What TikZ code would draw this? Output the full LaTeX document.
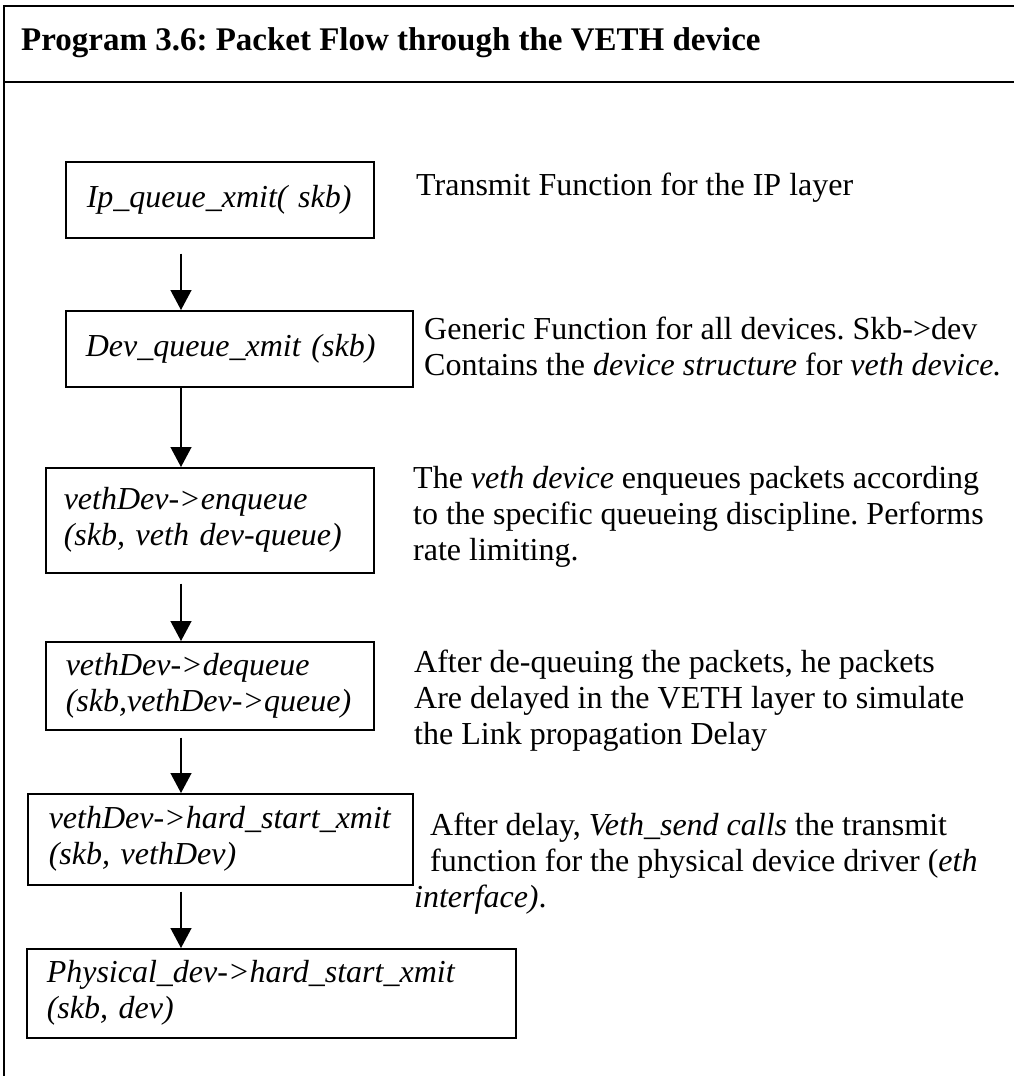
\documentclass[tikz,border=0pt]{standalone}
\usepackage{fontspec}
\setmainfont{Liberation Serif}
\usetikzlibrary{arrows.meta}
\frenchspacing

\begin{document}
\begin{tikzpicture}[x=1pt,y=-1pt,
  txt/.style={font=\fontsize{32pt}{36pt}\selectfont},
  flowbox/.style={txt, draw, line width=1.5pt, anchor=north west, align=left,
                  inner ysep=0pt, font=\fontsize{32pt}{36pt}\selectfont\itshape},
  % multi-line notes are placed by the baseline of their last line
  note/.style={txt, anchor=base west, align=left, inner sep=0pt},
  flow/.style={line width=1.3pt, -{Triangle[length=20pt,width=21pt]}},
  frame/.style={line width=2pt}]
  \useasboundingbox (0,0) rectangle (1014,1076);

  % table frame: open on the right and at the bottom
  \coordinate (tl) at (4,6);
  \coordinate (tr) at (1016,6);
  \coordinate (hl) at (4,82);
  \coordinate (hr) at (1016,82);
  \coordinate (bl) at (4,1078);
  \draw[frame] (tr) -- (tl) -- (bl);
  \draw[frame] (hl) -- (hr);

  \node[txt, font=\fontsize{33pt}{36pt}\selectfont\bfseries, anchor=base west, inner sep=0pt]
    (title) at (21,50) {Program 3.6: Packet Flow through the VETH device};

  % call chain
  \node[flowbox, minimum width=308pt, minimum height=76pt, inner xsep=21pt, text width=266pt]
    (b1) at (65,161) {Ip\_queue\_xmit( skb)};
  \node[flowbox, minimum width=347pt, minimum height=76pt, inner xsep=20pt, text width=307pt]
    (b2) at (65,310) {Dev\_queue\_xmit (skb)};
  \node[flowbox, minimum width=328pt, minimum height=105pt, inner xsep=18pt, text width=292pt]
    (b3) at (45,467) {vethDev->enqueue\\(skb, veth dev-queue)};
  \node[flowbox, minimum width=328pt, minimum height=88pt, inner xsep=20pt, text width=288pt]
    (b4) at (45,641) {vethDev->dequeue\\(skb,vethDev->queue)};
  \node[flowbox, minimum width=385pt, minimum height=91pt, inner xsep=21pt, text width=343pt]
    (b5) at (27,793) {vethDev->hard\_start\_xmit\\(skb, vethDev)};
  \node[flowbox, minimum width=489pt, minimum height=89pt, inner xsep=20pt, text width=449pt]
    (b6) at (26,948) {Physical\_dev->hard\_start\_xmit\\(skb, dev)};

  % arrows run down a common vertical line
  \coordinate (spine) at (181,0);
  \draw[flow, shorten <=15pt] (b1.south -| spine) -- (b2.north -| spine);
  \draw[flow] (b2.south -| spine) -- (b3.north -| spine);
  \draw[flow, shorten <=10pt] (b3.south -| spine) -- (b4.north -| spine);
  \draw[flow, shorten <=7pt] (b4.south -| spine) -- (b5.north -| spine);
  \draw[flow, shorten <=6pt] (b5.south -| spine) -- (b6.north -| spine);

  % explanations
  \node[note] (n1) at (416,195) {Transmit Function for the IP layer};
  \node[note] (n2) at (424,375) {Generic Function for all devices. Skb->dev\\
    Contains the \textit{device structure} for \textit{veth device.}};
  \node[note] (n3) at (413,560) {The \textit{veth device} enqueues packets according\\
    to the specific queueing discipline. Performs\\rate limiting.};
  \node[note] (n4) at (414,744) {After de-queuing the packets, he packets\\
    Are delayed in the VETH layer to simulate\\the Link propagation Delay};
  \node[note] (n5) at (414,907) {\hspace*{16pt}After delay, \textit{Veth\_send calls} the transmit\\
    \hspace*{16pt}function for the physical device driver (\textit{eth}\\
    \textit{interface)}.};
\end{tikzpicture}
\end{document}
